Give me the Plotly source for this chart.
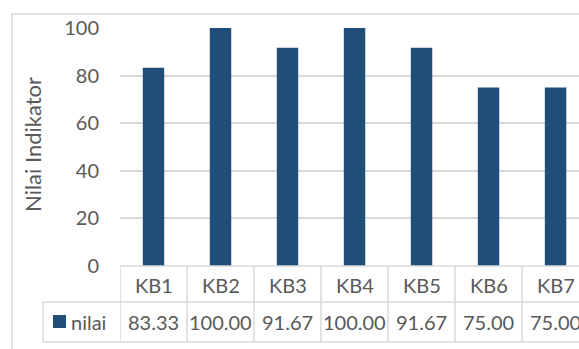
import plotly.graph_objects as go

categories = ["KB1", "KB2", "KB3", "KB4", "KB5", "KB6", "KB7"]
values = [83.33, 100.00, 91.67, 100.00, 91.67, 75.00, 75.00]
series_name = "nilai"
y_ticks = [0, 20, 40, 60, 80, 100]

W, H = 579, 349
BAR = "#1f4e79"
GRID = "#d9d9d9"
TXT = "#595959"
FONT = "Lato"

def px(x):
    return x / W

def py(y):
    return (H - y) / H

fig = go.Figure()
fig.add_trace(go.Bar(x=categories, y=values, name=series_name,
                     marker=dict(color=BAR, line=dict(width=0)), width=0.32))

shapes = []
# outer chart border
shapes.append(dict(type="rect", xref="paper", yref="paper", x0=px(12), x1=1.2,
                   y0=-0.2, y1=py(14), line=dict(color=GRID, width=1.5)))
# table horizontal lines
shapes.append(dict(type="line", xref="paper", yref="paper", x0=px(120), x1=1.05,
                   y0=py(266), y1=py(266), line=dict(color=GRID, width=1.5)))
for yy in (302, 342):
    shapes.append(dict(type="line", xref="paper", yref="paper", x0=px(43), x1=1.05,
                       y0=py(yy), y1=py(yy), line=dict(color=GRID, width=1.5)))
shapes.append(dict(type="line", xref="paper", yref="paper", x0=px(43), x1=px(43),
                   y0=py(302), y1=py(342), line=dict(color=GRID, width=1.5)))
# table vertical lines between categories
for i in range(len(categories) + 1):
    shapes.append(dict(type="line", xref="x", yref="paper", x0=i - 0.5, x1=i - 0.5,
                       y0=py(266), y1=py(342), line=dict(color=GRID, width=1.5)))
# legend key
shapes.append(dict(type="rect", xref="paper", yref="paper", x0=px(53), x1=px(66),
                   y0=py(328), y1=py(315), fillcolor=BAR, line=dict(width=0)))

annotations = []
for c, v in zip(categories, values):
    annotations.append(dict(x=c, xref="x", y=py(285), yref="paper", text=c,
                            yanchor="middle", showarrow=False,
                            font=dict(family=FONT, size=20, color=TXT)))
    annotations.append(dict(x=c, xref="x", y=py(322), yref="paper", text=f"{v:.2f}",
                            yanchor="middle", showarrow=False,
                            font=dict(family=FONT, size=20, color=TXT)))
annotations.append(dict(x=px(69), xref="paper", y=py(322), yref="paper", text=series_name,
                        xanchor="left", yanchor="middle", showarrow=False,
                        font=dict(family=FONT, size=20, color=TXT)))
annotations.append(dict(x=px(33), xref="paper", y=py(145), yref="paper",
                        text="Nilai Indikator", textangle=-90, showarrow=False,
                        xanchor="center", yanchor="middle",
                        font=dict(family=FONT, size=22, color=TXT)))

fig.update_layout(
    width=W, height=H,
    margin=dict(l=0, r=0, t=0, b=0, autoexpand=False),
    paper_bgcolor="white", plot_bgcolor="white",
    showlegend=False, bargap=0.68,
    shapes=shapes, annotations=annotations,
    font=dict(family=FONT, color=TXT),
    xaxis=dict(domain=[px(120), 1], range=[-0.5, 6.35], showticklabels=False,
               showgrid=False, zeroline=False, showline=False, automargin=False),
    yaxis=dict(domain=[py(266), py(28)], range=[0, 100], tickvals=y_ticks,
               showgrid=True, gridcolor=GRID, gridwidth=1.5, zeroline=False,
               showline=False, ticks="", ticklabelstandoff=20, automargin=False,
               tickfont=dict(family=FONT, size=20, color=TXT)),
)

fig.write_html("out.html")
